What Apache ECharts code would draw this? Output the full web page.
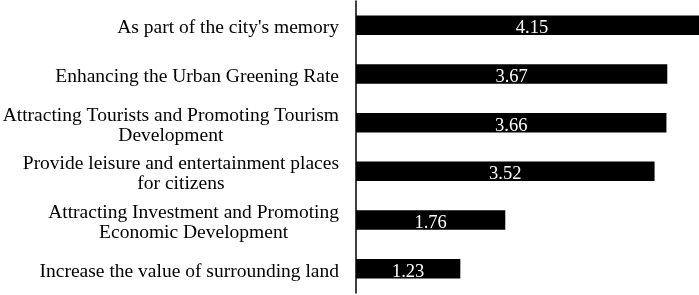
<!DOCTYPE html>
<html>
<head>
<meta charset="utf-8">
<script src="https://cdn.jsdelivr.net/npm/echarts@6/dist/echarts.min.js"></script>
<style>
  html, body { margin: 0; padding: 0; background: #fff; }
  #barChart { width: 699px; height: 295px; }
</style>
</head>
<body>
<div id="barChart"></div>
<script>
var categories = [
    "As part of the city's memory",
    'Enhancing the Urban Greening Rate',
    'Attracting Tourists and Promoting Tourism\nDevelopment',
    'Provide leisure and entertainment places\nfor citizens',
    'Attracting Investment and Promoting\nEconomic Development',
    'Increase the value of surrounding land'
];
var scores = [4.15, 3.67, 3.66, 3.52, 1.76, 1.23];

var barChart = echarts.init(document.getElementById('barChart'));
var option = {
    animation: false,
    grid: {
        outerBoundsMode: 'none',
        top: 1,
        bottom: 2,
        left: 356,
        right: -9   // the longest bar runs past the edge of the picture
    },
    xAxis: {
        type: 'value',
        min: 0,
        max: 4.15,
        show: false
    },
    yAxis: {
        type: 'category',
        inverse: true,
        data: categories,
        axisLine: {
            lineStyle: { color: '#000', width: 1.5 }
        },
        axisTick: { show: false },
        axisLabel: {
            margin: 17,
            padding: [6, 0, 0, 0],
            formatter: function (v) {
                return v.split('\n').map(function (s) { return '{c|' + s + '}'; }).join('\n');
            },
            rich: {
                c: {
                    align: 'center',
                    fontFamily: 'Liberation Serif',
                    fontSize: 19.5,
                    lineHeight: 20,
                    color: '#000'
                }
            }
        }
    },
    series: [
        {
            type: 'bar',
            data: scores,
            barWidth: '40%',
            itemStyle: { color: '#000' },
            label: {
                show: true,
                position: 'inside',
                offset: [0, 3],
                color: '#fff',
                fontFamily: 'Liberation Serif',
                fontSize: 18.5
            }
        }
    ]
};
barChart.setOption(option);
</script>
</body>
</html>
